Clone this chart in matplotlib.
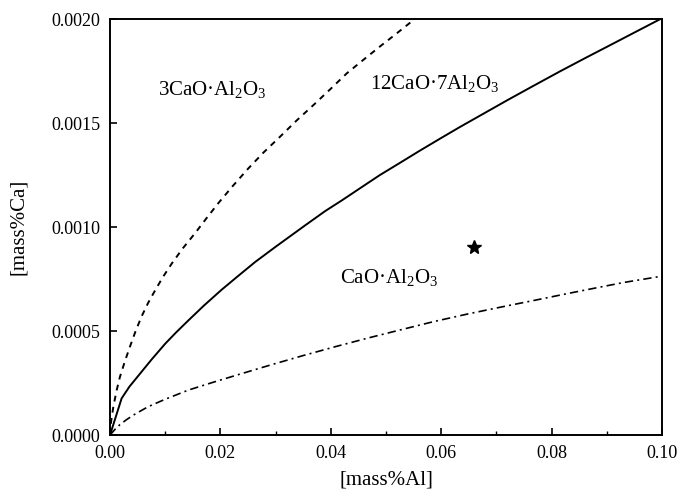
import numpy as np
import matplotlib.pyplot as plt

plt.rcParams['font.family'] = ['Liberation Serif', 'DejaVu Serif']
plt.rcParams['mathtext.fontset'] = 'custom'
plt.rcParams['mathtext.rm'] = 'Liberation Serif'
plt.rcParams['mathtext.it'] = 'Liberation Serif:italic'

# 3CaO.Al2O3 / 12CaO.7Al2O3 boundary (dashed)
al_c3a = [0.0, 0.0002, 0.0006, 0.0012, 0.0018, 0.0027, 0.0036, 0.0046, 0.0057,
          0.0069, 0.0082, 0.0096, 0.0112, 0.0132, 0.0154, 0.0175, 0.0196, 0.0222,
          0.0250, 0.0278, 0.0308, 0.0338, 0.0370, 0.0400, 0.0429, 0.0460, 0.0490,
          0.0518, 0.0545]
ca_c3a = [0.0, 0.000065, 0.000136, 0.000215, 0.000280, 0.000355, 0.000424, 0.000497,
          0.000569, 0.000635, 0.000697, 0.000760, 0.000825, 0.000898, 0.000970,
          0.001043, 0.001114, 0.001196, 0.001280, 0.001358, 0.001434, 0.001512,
          0.001590, 0.001665, 0.001739, 0.001806, 0.001870, 0.001928, 0.001985]

# 12CaO.7Al2O3 / CaO.Al2O3 boundary (solid)
al_c12a7 = [0.0, 0.0021, 0.0035, 0.0051, 0.0075, 0.0100, 0.0120, 0.0142, 0.0170,
            0.0202, 0.0230, 0.0263, 0.0300, 0.0353, 0.0390, 0.0420, 0.0455, 0.0489,
            0.0525, 0.0560, 0.0598, 0.0634, 0.0680, 0.0720, 0.0770, 0.0815, 0.0860,
            0.0900, 0.0950, 0.0995]
ca_c12a7 = [0.0, 0.000176, 0.000232, 0.000284, 0.000362, 0.000439, 0.000494, 0.000551,
            0.000622, 0.000698, 0.000760, 0.000832, 0.000905, 0.001007, 0.001077,
            0.001128, 0.001190, 0.001250, 0.001308, 0.001365, 0.001425, 0.001481,
            0.001550, 0.001610, 0.001683, 0.001748, 0.001811, 0.001866, 0.001935,
            0.001997]

# CaO.Al2O3 lower boundary (dash-dot)
al_ca = [0.0, 0.0010, 0.0018, 0.0030, 0.0045, 0.0069, 0.0100, 0.0142, 0.0185,
         0.0232, 0.0290, 0.0350, 0.0410, 0.0470, 0.0530, 0.0586, 0.0650, 0.0710,
         0.0770, 0.0827, 0.0880, 0.0930, 0.0996]
ca_ca = [0.0, 0.000030, 0.000050, 0.000074, 0.000100, 0.000136, 0.000172, 0.000216,
         0.000252, 0.000290, 0.000336, 0.000382, 0.000426, 0.000468, 0.000508,
         0.000545, 0.000583, 0.000616, 0.000648, 0.000679, 0.000707, 0.000733,
         0.000762]

# experimental point
star_al = [0.066]
star_ca = [0.000903]

fig = plt.figure(figsize=(6.8, 4.98), dpi=100)
ax = fig.add_axes([0.1618, 0.1265, 0.8117, 0.8353])

ax.plot(al_c3a, ca_c3a, color='black', lw=1.4, linestyle=(0, (3, 2.8)))
ax.plot(al_c12a7, ca_c12a7, color='black', lw=1.4)
ax.plot(al_ca, ca_ca, color='black', lw=1.2, linestyle=(0, (5, 2.5, 1.2, 2.5)))
ax.plot(star_al, star_ca, marker='*', color='black', ms=10, linestyle='none')

ax.text(0.0087, 0.00166, '3CaO·Al$_2$O$_3$', fontsize=15, va='center')
ax.text(0.0471, 0.00169, '12CaO·7Al$_2$O$_3$', fontsize=15, va='center')
ax.text(0.0417, 0.000755, 'CaO·Al$_2$O$_3$', fontsize=15, va='center')

ax.set_xlim(0, 0.10)
ax.set_ylim(0, 0.0020)
ax.set_xticks(np.arange(0, 0.101, 0.02))
ax.set_xticks(np.arange(0.01, 0.1, 0.02), minor=True)
ax.set_yticks(np.arange(0, 0.00201, 0.0005))
ax.set_xticklabels(['0.00', '0.02', '0.04', '0.06', '0.08', '0.10'])
ax.set_yticklabels(['0.0000', '0.0005', '0.0010', '0.0015', '0.0020'])
ax.tick_params(which='major', direction='in', length=5, width=1.2, labelsize=13, pad=7)
ax.tick_params(which='minor', direction='in', length=3, width=1.0)
for s in ax.spines.values():
    s.set_linewidth(1.4)

ax.set_xlabel('[mass%Al]', fontsize=15, labelpad=6)
ax.set_ylabel('[mass%Ca]', fontsize=15, labelpad=17)

fig.savefig('out.png', dpi=100)
